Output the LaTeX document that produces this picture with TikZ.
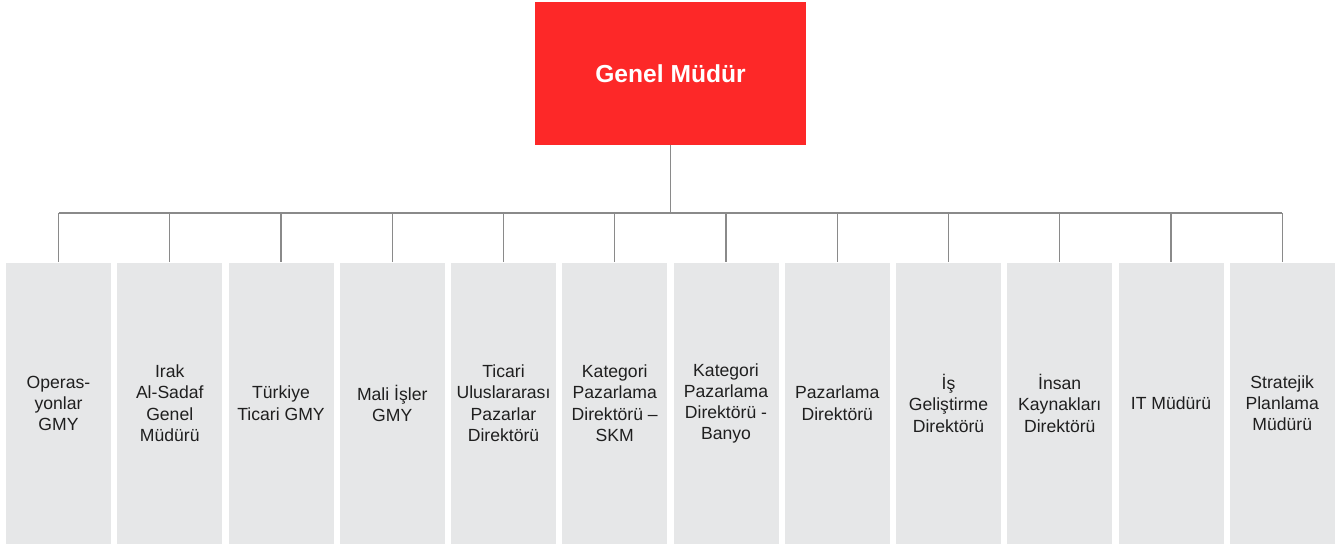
\documentclass[tikz,border=0pt]{standalone}
\usepackage{fontspec}
\setmainfont{Liberation Sans}
\definecolor{gmred}{HTML}{FD2828}
\definecolor{boxgray}{HTML}{E6E7E8}
\definecolor{linegray}{HTML}{8A8A8A}
\begin{document}
\begin{tikzpicture}[x=1pt,y=-1pt,
  topbox/.style={fill=gmred,draw=none,minimum width=271pt,minimum height=143pt,inner sep=0pt,
    text=white,font=\fontsize{24.6}{28}\selectfont\bfseries},
  unitbox/.style={fill=boxgray,draw=none,minimum width=105pt,minimum height=281.5pt,inner sep=0pt,
    align=center,text=black!88,font=\fontsize{17.6}{21.2}\selectfont},
  link/.style={draw=linegray,line width=1.2pt}]
\useasboundingbox (0,0) rectangle (1341,544);
\node[topbox] (gm) at (670.5,73.5) {Genel Müdür};
\coordinate (bus) at (670.5,213);
\foreach \k/\t in {0/{Operas-\\yonlar\\GMY},
  1/{Irak\\Al-Sadaf\\Genel\\Müdürü},
  2/{Türkiye\\Ticari GMY},
  3/{Mali İşler\\GMY},
  4/{Ticari\\Uluslararası\\Pazarlar\\Direktörü},
  5/{Kategori\\Pazarlama\\Direktörü –\\SKM},
  6/{Kategori\\Pazarlama\\Direktörü -\\Banyo},
  7/{Pazarlama\\Direktörü},
  8/{İş\\Geliştirme\\Direktörü},
  9/{İnsan\\Kaynakları\\Direktörü},
  10/{IT Müdürü},
  11/{Stratejik\\Planlama\\Müdürü}}{
  \node[unitbox] (u\k) at ({58.5+111.25*\k},403.25) {\t};
  \draw[link] (u\k.north |- bus) -- (u\k.north);
}
\draw[link] (gm.south) -- (bus);
\draw[link] (u0.north |- bus) -- (u11.north |- bus);
\end{tikzpicture}
\end{document}
